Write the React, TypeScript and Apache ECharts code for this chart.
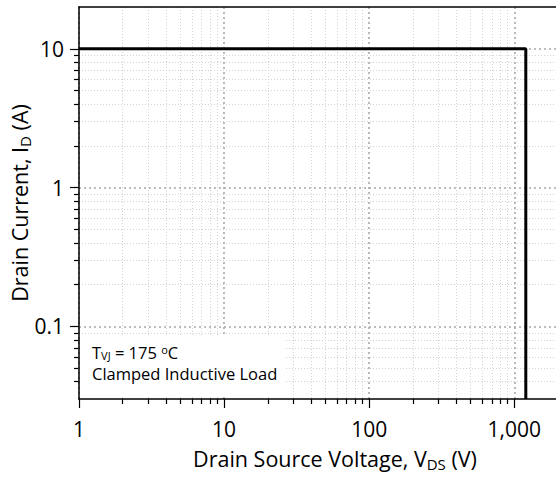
import React, { useEffect, useRef } from 'react';
import * as echarts from 'echarts';

// Axis ranges
const xRange = [1, 2000];
const yRange = [0.03, 20];

// Tick positions (log decades and in-between minors)
const xMajorTicks = [1, 10, 100, 1000];
const xMinorTicks = [2, 3, 4, 5, 6, 7, 8, 9, 20, 30, 40, 50, 60, 70, 80, 90, 200, 300, 400, 500, 600, 700, 800, 900];
const yMajorTicks = [0.1, 1, 10];
const yMinorTicks = [0.04, 0.05, 0.06, 0.07, 0.08, 0.09, 0.2, 0.3, 0.4, 0.5, 0.6, 0.7, 0.8, 0.9, 2, 3, 4, 5, 6, 7, 8, 9];

// RBSOA boundary
const boundaryVoltage = [1, 1200, 1200];
const boundaryCurrent = [10, 10, 0.03];

const FONT = "'Open Sans', sans-serif";

const fmt = (v: number) => {
  const r = Number(v.toPrecision(6));
  return r >= 1000 ? r.toLocaleString('en-US') : String(r);
};

export default function App() {
  const ref = useRef<HTMLDivElement>(null);

  useEffect(() => {
    if (!ref.current) return;
    const chart = echarts.init(ref.current, undefined, { renderer: 'svg' });

    const xBase = { type: 'log', logBase: 10, min: xRange[0], max: xRange[1], gridIndex: 0 };
    const yBase = { type: 'log', logBase: 10, min: yRange[0], max: yRange[1], gridIndex: 0 };

    const option: any = {
      animation: false,
      backgroundColor: '#fff',
      grid: { left: 79, top: 7, width: 479, height: 392, containLabel: false, outerBoundsMode: 'none' },
      xAxis: [
        {
          ...xBase,
          position: 'bottom',
          z: 3,
          axisLine: { show: true, onZero: false, lineStyle: { color: '#000', width: 1.5 } },
          axisTick: { show: true, customValues: xMajorTicks, length: 9, lineStyle: { color: '#000', width: 1.2 } },
          axisLabel: { show: true, customValues: xMajorTicks, formatter: fmt, fontSize: 21, color: '#000', fontFamily: FONT, margin: 19 },
          splitLine: { show: true, lineStyle: { color: '#a8a8a8', width: 1.6, type: [2, 3] } },
          minorTick: { show: false },
          name: '{n|Drain Source Voltage, V}{s|DS}{n| (V)}',
          nameLocation: 'middle',
          nameGap: 46,
          nameMoveOverlap: false,
          nameTextStyle: {
            fontFamily: FONT,
            color: '#000',
            padding: [0, 0, 0, 33],
            rich: {
              n: { fontSize: 21.5, fontFamily: FONT, color: '#000', lineHeight: 26 },
              s: { fontSize: 15, fontFamily: FONT, color: '#000', lineHeight: 15, verticalAlign: 'bottom' },
            },
          },
        },
        {
          ...xBase,
          position: 'bottom',
          z: 2,
          axisLine: { show: false, onZero: false },
          axisTick: { show: true, customValues: xMinorTicks, length: 5, lineStyle: { color: '#000', width: 1.2 } },
          axisLabel: { show: false },
          splitLine: { show: true, lineStyle: { color: '#d2d2d2', width: 1, type: [1, 2] } },
        },
        {
          ...xBase,
          position: 'top',
          z: 3,
          axisLine: { show: true, onZero: false, lineStyle: { color: '#000', width: 1.5 } },
          axisTick: { show: false },
          axisLabel: { show: false },
          splitLine: { show: false },
        },
      ],
      yAxis: [
        {
          ...yBase,
          position: 'left',
          z: 3,
          axisLine: { show: true, onZero: false, lineStyle: { color: '#000', width: 1.5 } },
          axisTick: { show: true, customValues: yMajorTicks, length: 9, lineStyle: { color: '#000', width: 1.2 } },
          axisLabel: { show: true, customValues: yMajorTicks, formatter: fmt, fontSize: 21, color: '#000', fontFamily: FONT, margin: 15 },
          splitLine: { show: true, lineStyle: { color: '#a8a8a8', width: 1.6, type: [2, 3] } },
          name: '{n|Drain Current, I}{s|D}{n| (A)}',
          nameLocation: 'middle',
          nameGap: 47,
          nameMoveOverlap: false,
          nameTextStyle: {
            fontFamily: FONT,
            color: '#000',
            rich: {
              n: { fontSize: 21.5, fontFamily: FONT, color: '#000', lineHeight: 26 },
              s: { fontSize: 15, fontFamily: FONT, color: '#000', lineHeight: 15, verticalAlign: 'bottom' },
            },
          },
        },
        {
          ...yBase,
          position: 'left',
          z: 2,
          axisLine: { show: false, onZero: false },
          axisTick: { show: true, customValues: yMinorTicks, length: 5, lineStyle: { color: '#000', width: 1.2 } },
          axisLabel: { show: false },
          splitLine: { show: true, lineStyle: { color: '#d2d2d2', width: 1, type: [1, 2] } },
        },
      ],
      graphic: [
        {
          type: 'rect',
          z: 10,
          shape: { x: 80.5, y: 335, width: 204, height: 60 },
          style: { fill: '#fff' },
          silent: true,
        },
        {
          type: 'text',
          z: 11,
          x: 92,
          y: 352,
          silent: true,
          style: {
            text: '{n|T}{s|VJ}{n| = 175 }{o|o}{n|C}',
            verticalAlign: 'middle',
            align: 'left',
            rich: {
              n: { fontSize: 16.5, fontFamily: FONT, fill: '#000', lineHeight: 17 },
              s: { fontSize: 11, fontFamily: FONT, fill: '#000', lineHeight: 11, verticalAlign: 'bottom' },
              o: { fontSize: 11, fontFamily: FONT, fill: '#000', lineHeight: 9, verticalAlign: 'top' },
            },
          },
        },
        {
          type: 'text',
          z: 11,
          x: 92,
          y: 373,
          silent: true,
          style: {
            text: 'Clamped Inductive Load',
            fontSize: 16.5,
            lineHeight: 16,
            fontFamily: FONT,
            fill: '#000',
            verticalAlign: 'middle',
            align: 'left',
          },
        },
      ],
      series: [
        {
          type: 'line',
          xAxisIndex: 0,
          yAxisIndex: 0,
          data: boundaryVoltage.map((v, i) => [v, boundaryCurrent[i]]),
          symbol: 'none',
          lineStyle: { color: '#000', width: 3 },
          z: 20,
          silent: true,
          clip: false,
        },
      ],
    };

    chart.setOption(option);
    return () => chart.dispose();
  }, []);

  return <div ref={ref} style={{ position: 'fixed', left: 0, top: 0, width: 556, height: 481 }} />;
}
